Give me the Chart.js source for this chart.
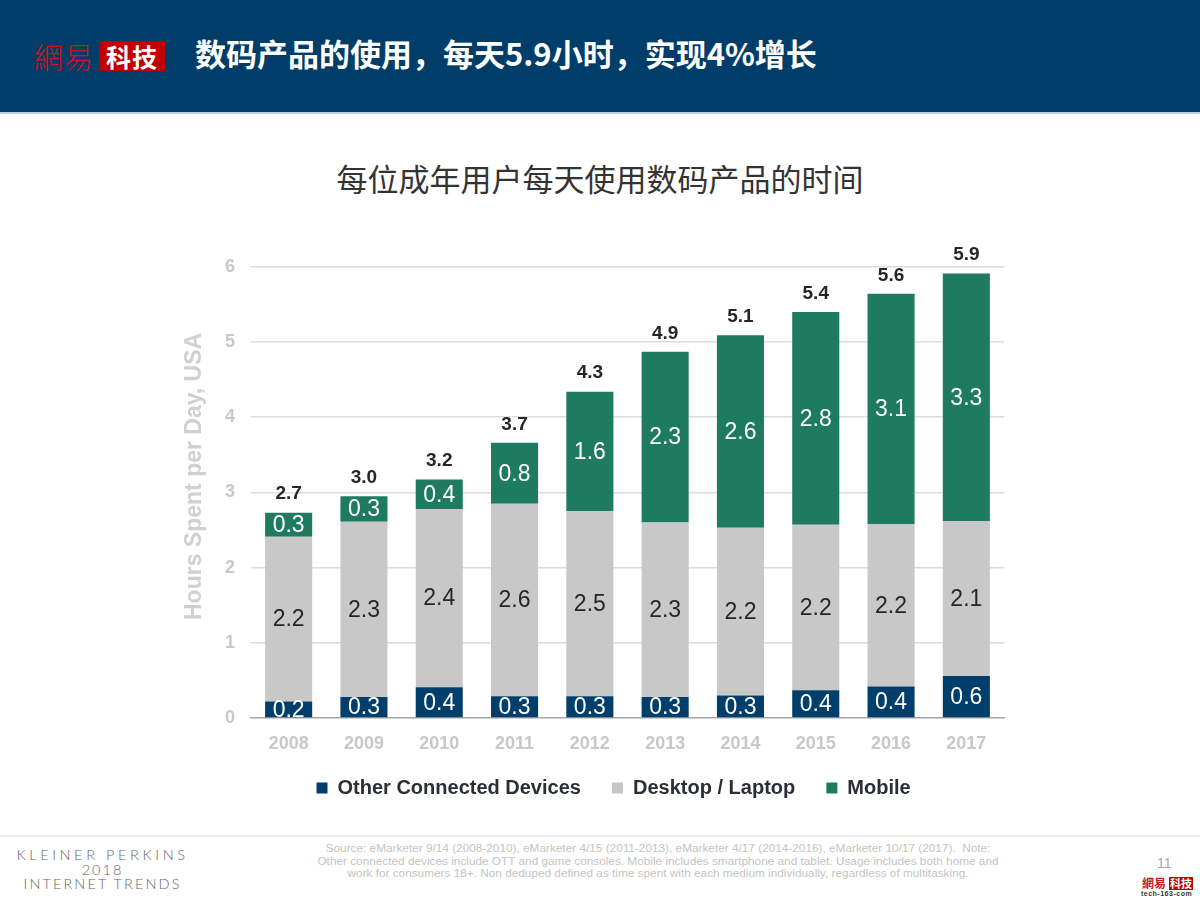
<!DOCTYPE html>
<html>
<head>
<meta charset="utf-8">
<script src="https://cdn.jsdelivr.net/npm/chart.js@4.4.1/dist/chart.umd.min.js"></script>
<style>
  body { margin: 0; width: 1200px; height: 900px; background: #fff; position: relative; overflow: hidden;
         font-family: "Liberation Sans", Arial, sans-serif; }
  #header { position: absolute; left: 0; top: 0; width: 1200px; height: 112px; background: #003D69;
            border-bottom: 2px solid #B7CFE3; }
  #logo1 { position: absolute; left: 34px; top: 35px; font-family: "Noto Sans CJK SC"; font-size: 29px;
           color: #C8161D; font-weight: 300; letter-spacing: 1px; }
  #logo2 { position: absolute; left: 99px; top: 41px; width: 66px; height: 30px; background: #C00000;
           color: #fff; font-family: "Noto Sans CJK SC"; font-weight: 700; font-size: 25px; line-height: 30px;
           text-align: center; letter-spacing: 1px; }
  #headTitle { position: absolute; left: 195px; top: 30px; color: #fff; font-family: "Noto Sans CJK SC";
               font-weight: 700; font-size: 31px; }
  #chartTitle { position: absolute; left: 0; width: 1200px; top: 155px; text-align: center;
                font-family: "Noto Sans CJK SC"; font-size: 31px; color: #333; }
  #chartBox { position: absolute; left: 170px; top: 240px; width: 850px; height: 572px; }
  #footLine { position: absolute; left: 0; top: 835px; width: 1200px; height: 2px; background: #EDEDED; }
  .kp { position: absolute; left: 0; width: 205px; text-align: center; color: #666; font-size: 14.5px;
        font-family: "Lato", sans-serif; font-weight: 300; letter-spacing: 3.6px; white-space: nowrap; }
  #source { position: absolute; left: 258px; width: 800px; top: 842px; text-align: center; color: #C4C4C4;
            font-size: 11.8px; line-height: 12.6px; white-space: nowrap; }
  #pageNo { position: absolute; left: 1157px; top: 855px; color: #AAA; font-size: 14px; }
  #logoS1 { position: absolute; left: 1142px; top: 874px; color: #C8161D; font-family: "Noto Sans CJK SC";
            font-size: 12px; font-weight: 700; }
  #logoS2 { position: absolute; left: 1169px; top: 877px; background: #C00000; color: #fff; font-family: "Noto Sans CJK SC";
            font-size: 11px; line-height: 13px; padding: 0 1px; font-weight: 700; }
  #logoS3 { position: absolute; left: 1141px; top: 890px; color: #333; font-size: 7px; letter-spacing: 0.5px; font-weight: 700; }
</style>
</head>
<body>
<div id="header">
  <div id="logo1">網易</div>
  <div id="logo2">科技</div>
  <div id="headTitle">数码产品的使用，每天5.9小时，实现4%增长</div>
</div>
<div id="chartTitle">每位成年用户每天使用数码产品的时间</div>
<div id="chartBox"><canvas id="myChart"></canvas></div>
<div id="footLine"></div>
<div class="kp" style="top:846px;">KLEINER PERKINS</div>
<div class="kp" style="top:861px; letter-spacing:2px;">2018</div>
<div class="kp" style="top:875px; letter-spacing:2.1px;">INTERNET TRENDS</div>
<div id="source">Source: eMarketer 9/14 (2008-2010), eMarketer 4/15 (2011-2013), eMarketer 4/17 (2014-2016), eMarketer 10/17 (2017).&nbsp; Note:<br>Other connected devices include OTT and game consoles. Mobile includes smartphone and tablet. Usage includes both home and<br>work for consumers 18+. Non deduped defined as time spent with each medium individually, regardless of multitasking.</div>
<div id="pageNo">11</div>
<div id="logoS1">網易</div>
<div id="logoS2">科技</div>
<div id="logoS3">tech-163-com</div>
<script>
const years = ["2008", "2009", "2010", "2011", "2012", "2013", "2014", "2015", "2016", "2017"];
const otherDevices = [0.22, 0.28, 0.41, 0.29, 0.29, 0.28, 0.30, 0.37, 0.42, 0.56];
const desktopLaptop = [2.19, 2.33, 2.37, 2.56, 2.46, 2.32, 2.23, 2.20, 2.16, 2.06];
const mobile = [0.32, 0.34, 0.39, 0.81, 1.59, 2.27, 2.56, 2.83, 3.06, 3.29];
const yTicks = [0, 1, 2, 3, 4, 5, 6];

const totals = years.map((y, i) => otherDevices[i] + desktopLaptop[i] + mobile[i]);

// draws the number inside each segment and the total above each bar
const labelPlugin = {
    id: "barLabels",
    afterDatasetsDraw(chart) {
        const ctx = chart.ctx;
        ctx.save();
        ctx.textAlign = "center";
        ctx.textBaseline = "middle";
        chart.data.datasets.forEach((ds, di) => {
            const meta = chart.getDatasetMeta(di);
            meta.data.forEach((bar, i) => {
                const v = ds.data[i];
                ctx.font = "23px 'Liberation Sans', Arial, sans-serif";
                ctx.fillStyle = di === 1 ? "#262626" : "#ffffff";
                ctx.fillText((Math.round(v * 10) / 10).toFixed(1), bar.x, (bar.y + bar.base) / 2 + 1);
            });
        });
        const top = chart.getDatasetMeta(2);
        top.data.forEach((bar, i) => {
            ctx.font = "bold 19px 'Liberation Sans', Arial, sans-serif";
            ctx.fillStyle = "#262626";
            ctx.textBaseline = "bottom";
            ctx.fillText((Math.round(totals[i] * 10) / 10).toFixed(1), bar.x, bar.y - 9);
        });
        ctx.restore();
    },
};

const data = {
    labels: years,
    datasets: [
        { label: "Other Connected Devices", data: otherDevices, backgroundColor: "#003F6B" },
        { label: "Desktop / Laptop", data: desktopLaptop, backgroundColor: "#C8C8C8" },
        { label: "Mobile", data: mobile, backgroundColor: "#1E7B5F" },
    ],
};

const config = {
    type: "bar",
    data,
    plugins: [labelPlugin],
    options: {
        responsive: true,
        maintainAspectRatio: false,
        animation: false,
        datasets: {
            bar: { barPercentage: 0.625, categoryPercentage: 1 },
        },
        layout: {
            padding: { top: 16, right: 16, left: 0, bottom: 4 },
        },
        plugins: {
            tooltip: { enabled: false },
            legend: {
                position: "bottom",
                fullSize: false,
                labels: {
                    boxWidth: 11,
                    boxHeight: 11,
                    padding: 20,
                    color: "#2B2D37",
                    font: { size: 20, weight: "bold", family: "'Liberation Sans', Arial, sans-serif" },
                    // trailing spaces set the gap between legend items
                    generateLabels(chart) {
                        const items = Chart.defaults.plugins.legend.labels.generateLabels(chart);
                        items.forEach((it, i) => { it.text = it.text + (i < 2 ? "  " : "     "); });
                        return items;
                    },
                },
            },
        },
        scales: {
            x: {
                stacked: true,
                grid: { display: false },
                border: { color: "#A6A6A6", width: 1.5 },
                ticks: {
                    padding: 7,
                    color: "#C8C8C8",
                    font: { size: 18, weight: "bold", family: "'Liberation Sans', Arial, sans-serif" },
                },
                afterFit(scale) { scale.height = 40; },
            },
            y: {
                stacked: true,
                min: 0,
                max: 6,
                afterBuildTicks(scale) { scale.ticks = yTicks.map((v) => ({ value: v })); },
                grid: {
                    color: (c) => (c.tick && c.tick.value === 0 ? "rgba(0,0,0,0)" : "#DCDCDC"),
                    lineWidth: 1.5,
                    drawTicks: false,
                },
                border: { display: false },
                ticks: {
                    padding: 16,
                    color: "#C8C8C8",
                    font: { size: 18, weight: "bold", family: "'Liberation Sans', Arial, sans-serif" },
                },
                title: {
                    display: true,
                    text: "     Hours Spent per Day, USA",
                    color: "#D0D0D0",
                    padding: { top: 11, bottom: 0 },
                    font: { size: 23, weight: "bold", family: "'Liberation Sans', Arial, sans-serif" },
                },
                afterFit(scale) { scale.width = 81; },
            },
        },
    },
};

const ctx = document.getElementById("myChart").getContext("2d");
const stackedBar = new Chart(ctx, config);
</script>
</body>
</html>
